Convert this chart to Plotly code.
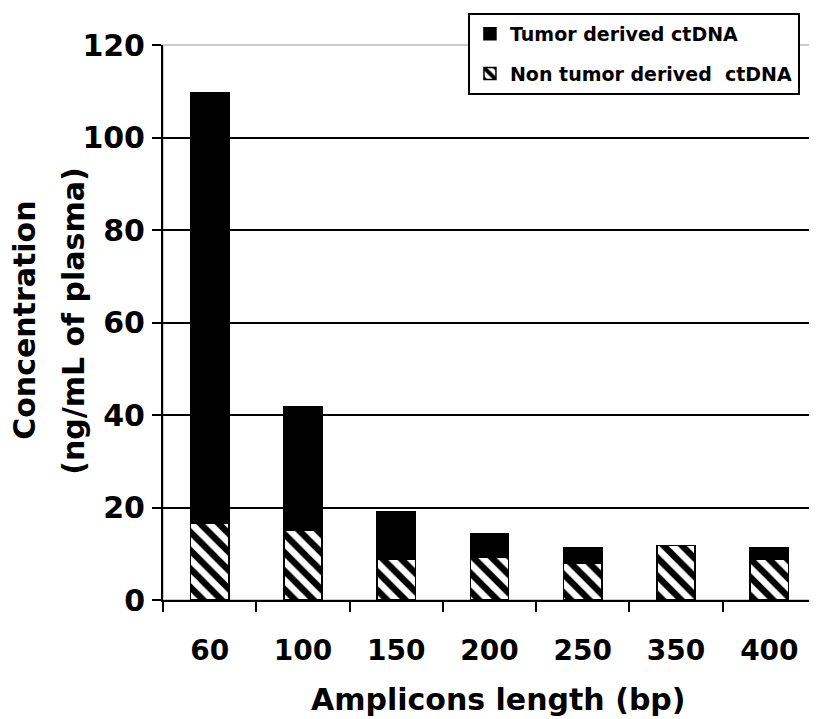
import plotly.graph_objects as go

categories = ["60", "100", "150", "200", "250", "350", "400"]
non_tumor = [16.6, 15.0, 8.8, 9.2, 7.9, 11.8, 8.8]
tumor = [93.1, 26.7, 10.3, 5.2, 3.5, 0.0, 2.6]
y_ticks = [0, 20, 40, 60, 80, 100, 120]
grid_vals = [20, 40, 60, 80, 100]

FONT = "DejaVu Sans"

fig = go.Figure()
fig.add_trace(go.Bar(
    x=categories, y=non_tumor, name="Non tumor derived  ctDNA",
    legendgroup="b", legendrank=2,
    marker=dict(color="white", line=dict(color="black", width=1.5),
                pattern=dict(shape="\\", fgcolor="#000000", bgcolor="white",
                             fgopacity=1, size=13, solidity=0.5)),
))
fig.add_trace(go.Bar(
    x=categories, y=tumor, name="Tumor derived ctDNA",
    legendgroup="a", legendrank=1,
    marker=dict(color="black", line=dict(color="black", width=1.5)),
))
# invisible helper trace so the grid axis is drawn
fig.add_trace(go.Scatter(
    x=categories, y=non_tumor, yaxis="y2", mode="markers",
    marker=dict(opacity=0), showlegend=False, hoverinfo="skip",
))

fig.update_layout(
    width=809, height=711,
    margin=dict(l=155, r=1, t=37, b=119, autoexpand=False),
    paper_bgcolor="white", plot_bgcolor="white",
    barmode="stack", bargap=0.59,
    font=dict(family=FONT, weight="bold", color="black", size=20),
    showlegend=True,
    legend=dict(x=0.467, y=1.0577, xanchor="left", yanchor="top",
                bgcolor="white", bordercolor="black", borderwidth=2,
                font=dict(family=FONT, size=19, weight="bold", color="black"),
                traceorder="grouped", tracegroupgap=12),
    xaxis=dict(type="category", categoryorder="array", categoryarray=categories,
               showline=True, linecolor="black", linewidth=2,
               ticks="outside", tickson="boundaries", ticklen=10, tickwidth=2,
               tickcolor="black", showgrid=False, automargin=False,
               tickfont=dict(family=FONT, size=28, weight="bold", color="black"),
               ticklabelstandoff=24),
    yaxis=dict(range=[0, 120], tickvals=y_ticks, showgrid=False,
               showline=True, linecolor="black", linewidth=2,
               ticks="outside", ticklen=9, tickwidth=2, tickcolor="black",
               tickfont=dict(family=FONT, size=30, weight="bold", color="black"),
               ticklabelstandoff=1, zeroline=False, automargin=False),
    yaxis2=dict(range=[0, 120], overlaying="y", anchor="x", side="left",
                tickvals=grid_vals, showgrid=True, gridcolor="black", gridwidth=2,
                showticklabels=False, ticks="", showline=False, zeroline=False,
                automargin=False),
    shapes=[dict(type="rect", xref="paper", yref="paper", x0=0, x1=1, y0=0, y1=1,
                 line=dict(color="#999999", width=1), layer="below")],
    annotations=[
        dict(text="Concentration", textangle=-90,
             xref="paper", yref="paper", x=-0.2113, y=0.503,
             xanchor="center", yanchor="middle", showarrow=False,
             font=dict(family=FONT, size=30, weight="bold", color="black")),
        dict(text="(ng/mL of plasma)", textangle=-90,
             xref="paper", yref="paper", x=-0.1363, y=0.503,
             xanchor="center", yanchor="middle", showarrow=False,
             font=dict(family=FONT, size=30, weight="bold", color="black")),
        dict(text="Amplicons length (bp)",
             xref="paper", yref="paper", x=0.5145, y=-0.18,
             xanchor="center", yanchor="middle", showarrow=False,
             font=dict(family=FONT, size=30, weight="bold", color="black")),
    ],
)

fig.write_html("out.html")
